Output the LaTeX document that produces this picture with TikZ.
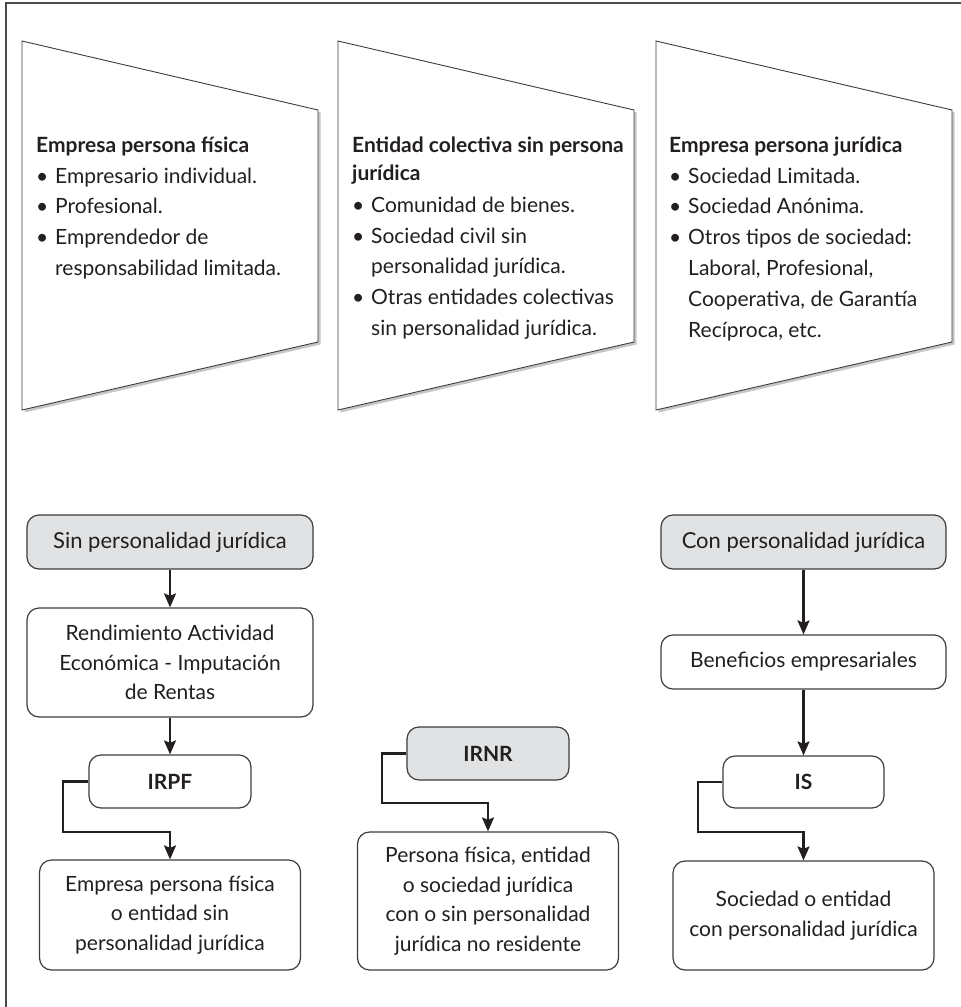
\documentclass[tikz,border=0pt]{standalone}
\usepackage{fontspec}
\setmainfont{Lato}
\usetikzlibrary{shadows,arrows.meta}
\definecolor{ink}{HTML}{231F20}
\definecolor{fillgray}{HTML}{E1E2E3}
\definecolor{edge}{HTML}{3C3C3C}
\definecolor{framegray}{HTML}{4A4A4A}
\newcommand{\bulmark}{\makebox[19pt][l]{\textbullet}}
\newcommand{\contind}{\makebox[19pt]{}}
\newcommand{\firstln}{\rule{0pt}{17pt}}
\tikzset{
  panel/.style={draw=edge, line width=0.9pt, fill=white,
    drop shadow={shadow xshift=2.5pt, shadow yshift=-2.5pt, opacity=0.45}},
  paneltext/.style={anchor=north west, inner sep=0pt, align=left, text=ink,
    font=\fontsize{21}{30.8}\selectfont},
  rbox/.style={draw=edge, line width=1.2pt, rounded corners=12pt, fill=white,
    text=ink, align=center, inner sep=2pt,
    font=\fontsize{21}{29.5}\selectfont},
  graybox/.style={rbox, fill=fillgray},
  headfont/.style={font=\fontsize{22}{29.5}\selectfont},
  flow/.style={draw=ink, line width=2.3pt,
    -{Stealth[length=14pt, width=12pt, inset=2.5pt]}},
  framepen/.style={draw=framegray, line width=1.4pt}
}
\begin{document}
\begin{tikzpicture}[x=1pt, y=-1pt]
\useasboundingbox (0,0) rectangle (961,1007);
% frame
\draw[framepen] (6,1007) -- (6,3) -- (961,3);

% top panels
\draw[panel] (22,41) -- (318,110) -- (318,342) -- (22,410) -- cycle;
\draw[panel] (338,41) -- (634,110) -- (634,342) -- (338,410) -- cycle;
\draw[panel] (656,41) -- (952,110) -- (952,342) -- (656,410) -- cycle;

\node[paneltext] (t1) at (36,135) {\firstln\textbf{Empresa persona física}\\
\bulmark Empresario individual.\\
\bulmark Profesional.\\
\bulmark Emprendedor de\\
\contind responsabilidad limitada.};

\node[paneltext] (t2) at (352,135) {\firstln\textbf{Entidad colectiva sin persona}\\[-3pt]
\textbf{jurídica}\\[1.5pt]
\bulmark Comunidad de bienes.\\
\bulmark Sociedad civil sin\\
\contind personalidad jurídica.\\
\bulmark Otras entidades colectivas\\
\contind sin personalidad jurídica.};

\node[paneltext] (t3) at (669,135) {\firstln\textbf{Empresa persona jurídica}\\
\bulmark Sociedad Limitada.\\
\bulmark Sociedad Anónima.\\
\bulmark Otros tipos de sociedad:\\
\contind Laboral, Profesional,\\
\contind Cooperativa, de Garantía\\
\contind Recíproca, etc.};

% left column
\node[graybox, headfont, minimum width=286pt, minimum height=54pt] (sin) at (170,542) {Sin personalidad jurídica};
\node[rbox, minimum width=286pt, minimum height=109pt] (rend) at (170,662.5) {Rendimiento Actividad\\Económica - Imputación\\de Rentas};
\node[rbox, minimum width=162pt, minimum height=53pt] (irpf) at (170,781.5) {\textbf{IRPF}};
\node[rbox, minimum width=261pt, minimum height=110pt] (bl) at (170,915) {Empresa persona física\\o entidad sin\\personalidad jurídica};

% middle column
\node[graybox, minimum width=162pt, minimum height=53pt] (irnr) at (488,753.5) {\textbf{IRNR}};
\node[rbox, minimum width=261pt, minimum height=138pt] (bm) at (488,901) {Persona física, entidad\\o sociedad jurídica\\con o sin personalidad\\jurídica no residente};

% right column
\node[graybox, headfont, minimum width=285pt, minimum height=54pt] (con) at (803.5,542) {Con personalidad jurídica};
\node[rbox, minimum width=285pt, minimum height=54pt] (ben) at (803.5,662) {Beneficios empresariales};
\node[rbox, minimum width=161pt, minimum height=52pt] (is) at (803.5,782) {\textbf{IS}};
\node[rbox, minimum width=261pt, minimum height=109pt] (br) at (803.5,915.5) {Sociedad o entidad\\con personalidad jurídica};

% bend points
\coordinate (k1) at (63,832);
\coordinate (k2) at (382,803);
\coordinate (k3) at (698,832);

% connectors
\draw[flow] (sin) -- (rend);
\draw[flow] (rend) -- (irpf);
\draw[flow] (irpf.west) -| (k1) -| (bl.north);
\draw[flow] (irnr.west) -| (k2) -| (bm.north);
\draw[flow] (con) -- (ben);
\draw[flow] (ben) -- (is);
\draw[flow] (is.west) -| (k3) -| (br.north);
\end{tikzpicture}
\end{document}
